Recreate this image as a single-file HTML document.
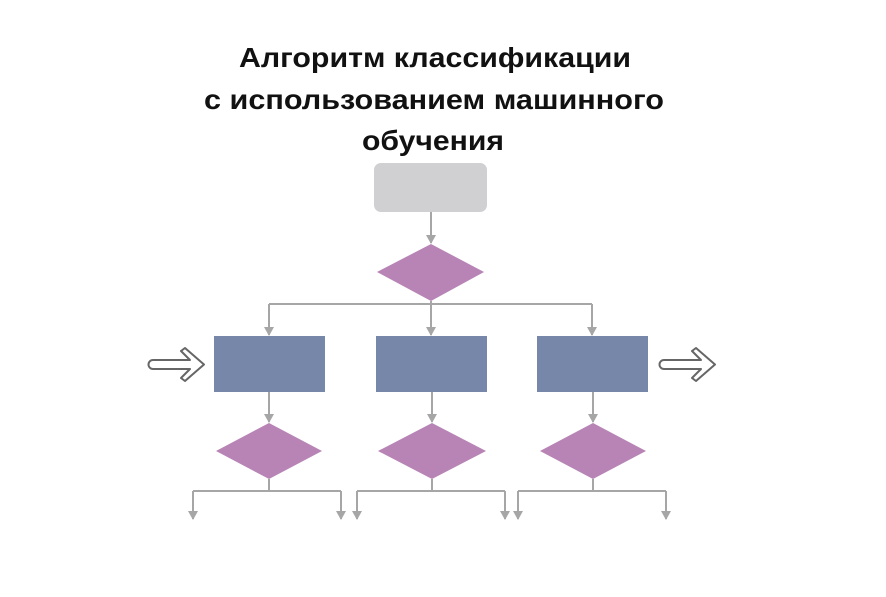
<!DOCTYPE html>
<html><head><meta charset="utf-8"><style>html,body{margin:0;padding:0;background:#fff}svg{display:block}</style></head>
<body>
<svg width="886" height="597" viewBox="0 0 886 597" xmlns="http://www.w3.org/2000/svg">
<defs>
<marker id="a" markerWidth="10" markerHeight="10" refX="8" refY="5" orient="auto" markerUnits="userSpaceOnUse">
<path d="M0,0 L9,5 L0,10 Z" fill="#a6a6a6"/></marker>
</defs>
<g font-family="Liberation Sans, sans-serif" font-weight="bold" font-size="28" fill="#111" text-anchor="middle">
<text x="435" y="67" textLength="392" lengthAdjust="spacingAndGlyphs">Алгоритм классификации</text>
<text x="434" y="109" textLength="460" lengthAdjust="spacingAndGlyphs">с использованием машинного</text>
<text x="433" y="150" textLength="142" lengthAdjust="spacingAndGlyphs">обучения</text>
</g>
<rect x="374" y="163" width="113" height="49" rx="7" fill="#d0cfd1"/>
<g stroke="#a6a6a6" stroke-width="2" fill="none">
<path d="M431,212 V243" marker-end="url(#a)"/>
<path d="M431,301 V335" marker-end="url(#a)"/>
<path d="M269,304 H592"/>
<path d="M269,304 V335" marker-end="url(#a)"/>
<path d="M592,304 V335" marker-end="url(#a)"/>
<path d="M269,392 V422" marker-end="url(#a)"/>
<path d="M432,392 V422" marker-end="url(#a)"/>
<path d="M593,392 V422" marker-end="url(#a)"/>
<path d="M269,479 V491 M432,479 V491 M593,479 V491"/>
<path d="M193,491 H341 M357,491 H505 M518,491 H666"/>
<path d="M193,491 V519" marker-end="url(#a)"/>
<path d="M341,491 V519" marker-end="url(#a)"/>
<path d="M357,491 V519" marker-end="url(#a)"/>
<path d="M505,491 V519" marker-end="url(#a)"/>
<path d="M518,491 V519" marker-end="url(#a)"/>
<path d="M666,491 V519" marker-end="url(#a)"/>
</g>
<polygon points="431,244 484,272 431,301 377,272" fill="#b784b5"/>
<rect x="214" y="336" width="111" height="56" fill="#7687aa"/>
<rect x="376" y="336" width="111" height="56" fill="#7687aa"/>
<rect x="537" y="336" width="111" height="56" fill="#7687aa"/>
<polygon points="269,423 322,451 269,479 216,451" fill="#b784b5"/>
<polygon points="432,423 486,451 432,479 378,451" fill="#b784b5"/>
<polygon points="593,423 646,451 593,479 540,451" fill="#b784b5"/>
<g fill="#fff" stroke="#666" stroke-width="2" stroke-linejoin="round">
<path d="M153,360 H190 L181,351 L185,348 L204,364.5 L185,381 L181,378 L190,369 H153 A4.5,4.5 0 0 1 153,360 Z"/>
<path d="M664,360 H701 L692,351 L696,348 L715,364.5 L696,381 L692,378 L701,369 H664 A4.5,4.5 0 0 1 664,360 Z"/>
</g>
</svg>
</body></html>
